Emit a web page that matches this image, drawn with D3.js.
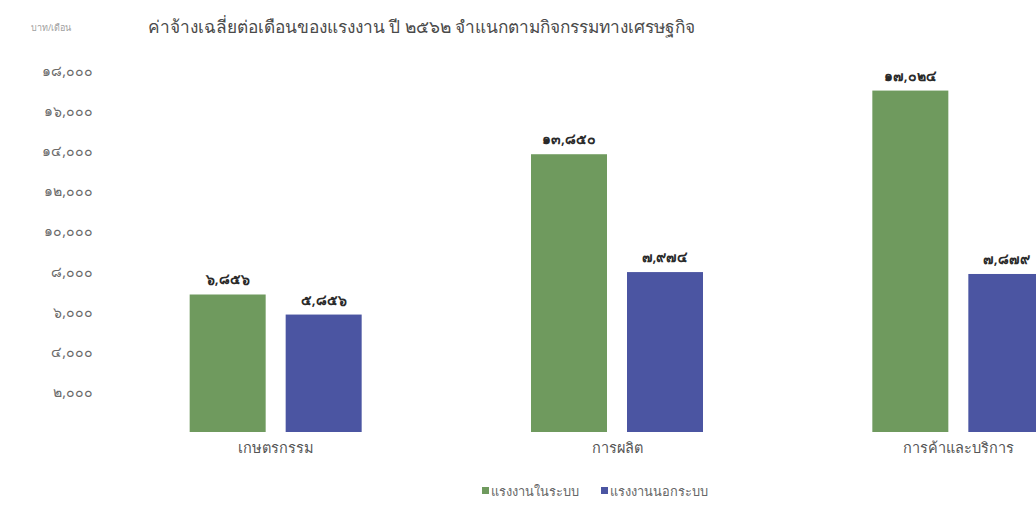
<!DOCTYPE html>
<html lang="th">
<head>
<meta charset="utf-8">
<script src="https://cdn.jsdelivr.net/npm/d3@7"></script>
<style>
  html, body { margin: 0; padding: 0; background: #fff; }
  svg { display: block; font-family: "Noto Sans", "DejaVu Sans", sans-serif; }
</style>
</head>
<body>
<svg id="chart" width="1036" height="505"></svg>
<script>
// Average monthly wage of workers, 2562 B.E., by economic activity
const categories = ["เกษตรกรรม", "การผลิต", "การค้าและบริการ"];
const seriesNames = ["แรงงานในระบบ", "แรงงานนอกระบบ"];
const formalValues = [6856, 13850, 17024];
const informalValues = [5856, 7974, 7879];
const yTicks = [2000, 4000, 6000, 8000, 10000, 12000, 14000, 16000, 18000];
const seriesColors = ["#6f9a5e", "#4b55a2"];

const titleText = "ค่าจ้างเฉลี่ยต่อเดือนของแรงงาน ปี ๒๕๖๒ จำแนกตามกิจกรรมทางเศรษฐกิจ";
const unitText = "บาท/เดือน";

const thaiDigits = "๐๑๒๓๔๕๖๗๘๙";
const toThai = s => String(s).replace(/[0-9]/g, d => thaiDigits[+d]);
const fmt = v => toThai(d3.format(",")(v));
const fontStack = "\"Noto Sans\", \"DejaVu Sans\", sans-serif";

const svg = d3.select("#chart");

const y = d3.scaleLinear().domain([0, 18000]).range([432, 71]);

const x0 = d3.scaleBand().domain(categories).range([105, 1129]).padding(0);
const groupW = 172;
const x1 = d3.scaleBand().domain(seriesNames)
  .range([x0.bandwidth() / 2 - groupW / 2, x0.bandwidth() / 2 + groupW / 2])
  .paddingInner(0.2083).paddingOuter(0);
const color = d3.scaleOrdinal().domain(seriesNames).range(seriesColors);

const rows = categories.map((c, i) => ({
  category: c,
  values: [
    { series: seriesNames[0], value: formalValues[i] },
    { series: seriesNames[1], value: informalValues[i] }
  ]
}));

// unit label and title
svg.append("text").attr("x", 31).attr("y", 31)
  .attr("font-size", 9).attr("fill", "#a0a0a0").text(unitText);
svg.append("text").attr("x", 148).attr("y", 33)
  .attr("font-size", 17.3).attr("fill", "#4a4a4a").text(titleText);

// y axis: labels only
const yAxis = d3.axisLeft(y).tickValues(yTicks).tickFormat(fmt).tickSize(0).tickPadding(0);
const yg = svg.append("g").attr("transform", "translate(93,0)").call(yAxis);
yg.select(".domain").remove();
yg.selectAll("text").attr("font-size", 14).attr("fill", "#6a6a6a")
  .attr("font-family", fontStack);

// bars
const groups = svg.append("g").selectAll("g").data(rows).join("g")
  .attr("transform", d => `translate(${x0(d.category)},0)`);

groups.selectAll("rect").data(d => d.values).join("rect")
  .attr("x", d => x1(d.series))
  .attr("y", d => y(d.value))
  .attr("width", x1.bandwidth())
  .attr("height", d => y(0) - y(d.value))
  .attr("fill", d => color(d.series));

groups.selectAll("text.val").data(d => d.values).join("text")
  .attr("class", "val")
  .attr("x", d => x1(d.series) + x1.bandwidth() / 2)
  .attr("y", d => y(d.value) - 10)
  .attr("text-anchor", "middle")
  .attr("font-size", 14).attr("font-weight", 600).attr("fill", "#2a2a2a")
  .text(d => fmt(d.value));

// x axis: category labels only
const xAxis = d3.axisBottom(x0).tickSize(0).tickPadding(0);
const xg = svg.append("g").attr("transform", "translate(0,443)").call(xAxis);
xg.select(".domain").remove();
xg.selectAll("text").attr("font-size", 14.5).attr("fill", "#555")
  .attr("font-family", fontStack);

// legend
const legendX = [482, 601];
const legend = svg.append("g").selectAll("g").data(seriesNames).join("g")
  .attr("transform", (d, i) => `translate(${legendX[i]},486)`);
legend.append("rect").attr("width", 7).attr("height", 7).attr("y", 1)
  .attr("fill", d => color(d));
legend.append("text").attr("x", 9).attr("y", 10)
  .attr("font-size", 12.8).attr("fill", "#666").text(d => d);
</script>
</body>
</html>
